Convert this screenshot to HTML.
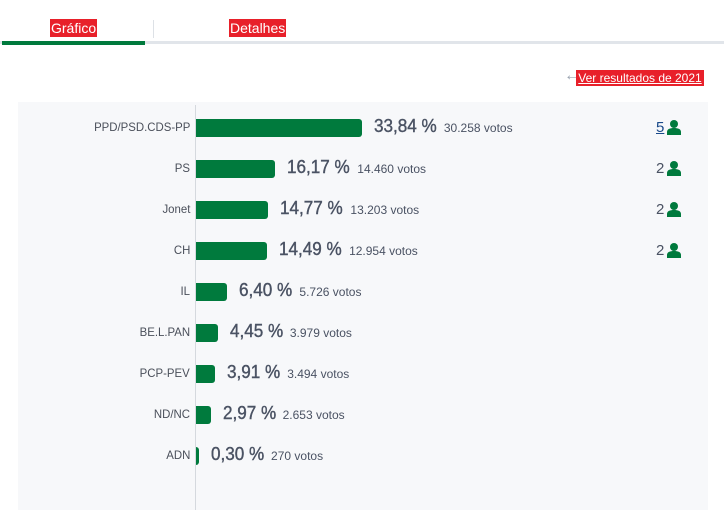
<!DOCTYPE html>
<html><head><meta charset="utf-8"><style>
body{margin:0;width:724px;height:510px;background:#fff;font-family:"Liberation Sans",sans-serif;position:relative;overflow:hidden}
.a{position:absolute;white-space:nowrap}
.lab{position:absolute;right:534px;font-size:12px;color:#4a4f5a;transform:scaleX(.95);transform-origin:right}
.bar{position:absolute;left:196px;height:18px;background:#007a3d;border-radius:0 3px 3px 0}
.pct{font-size:18px;color:#4a5263;display:inline-block;transform:scaleX(.95);transform-origin:left;-webkit-text-stroke:.4px #4a5263}
.vot{font-size:12px;color:#4a5263;margin-left:4px}
.seat{position:absolute;left:656px;font-size:15px;color:#4a5263}
</style></head><body>
<div class="a" style="left:0;top:41px;width:724px;height:3px;background:#e1e5ea"></div>
<div class="a" style="left:2px;top:41px;width:143px;height:4px;background:#007a3d"></div>
<div class="a" style="left:153px;top:20px;width:1px;height:18px;background:#dde1e6"></div>
<div class="a" style="left:50px;top:19px;height:18px;background:#e8202a;color:#fff;font-size:14px;line-height:18px;padding:0 1px">Gráfico</div>
<div class="a" style="left:229px;top:19px;height:18px;background:#e8202a;color:#fff;font-size:14px;line-height:18px;padding:0 1px">Detalhes</div>
<div class="a" style="left:564px;top:67px;color:#9aa3b0;font-size:16px;font-weight:bold">←</div>
<div class="a" style="left:576px;top:70px;width:128px;height:16px;background:#e8202a;color:#fff;font-size:12px;line-height:16px;text-decoration:underline;text-align:center">Ver resultados de 2021</div>
<div class="a" style="left:18px;top:102px;width:690px;height:408px;background:#f7f8fa"></div>
<div class="a" style="left:195px;top:105px;width:1px;height:405px;background:#d5d9de"></div>
<div id="rows"></div>
<script>
var d=[["PPD/PSD.CDS-PP","33,84","30.258",33.84,"5"],["PS","16,17","14.460",16.17,"2"],["Jonet","14,77","13.203",14.77,"2"],["CH","14,49","12.954",14.49,"2"],["IL","6,40","5.726",6.4],["BE.L.PAN","4,45","3.979",4.45],["PCP-PEV","3,91","3.494",3.91],["ND/NC","2,97","2.653",2.97],["ADN","0,30","270",0.3]];
var h="";d.forEach(function(r,i){var y=128+41*i,w=Math.max(3,r[3]*4.9);
h+='<div class="lab" style="top:'+(y-8)+'px">'+r[0]+'</div>';
h+='<div class="bar" style="top:'+(y-9)+'px;width:'+w+'px"></div>';
h+='<div class="a" style="left:'+(196+w+12)+'px;top:'+(y-12)+'px"><span class="pct">'+r[1]+' %</span><span class="vot">'+r[2]+' votos</span></div>';
if(r[4])h+='<div class="seat" style="top:'+(y-9)+'px;'+(i==0?'color:#1a4a8a;text-decoration:underline':'')+'">'+r[4]+'</div><svg class="a" style="left:667px;top:'+(y-8)+'px" width="14" height="15"><circle cx="7" cy="4" r="4" fill="#007a3d"/><path d="M0 15v-3c0-3 3-4 7-4s7 1 7 4v3z" fill="#007a3d"/></svg>';});
document.getElementById("rows").innerHTML=h;
</script>
</body></html>
